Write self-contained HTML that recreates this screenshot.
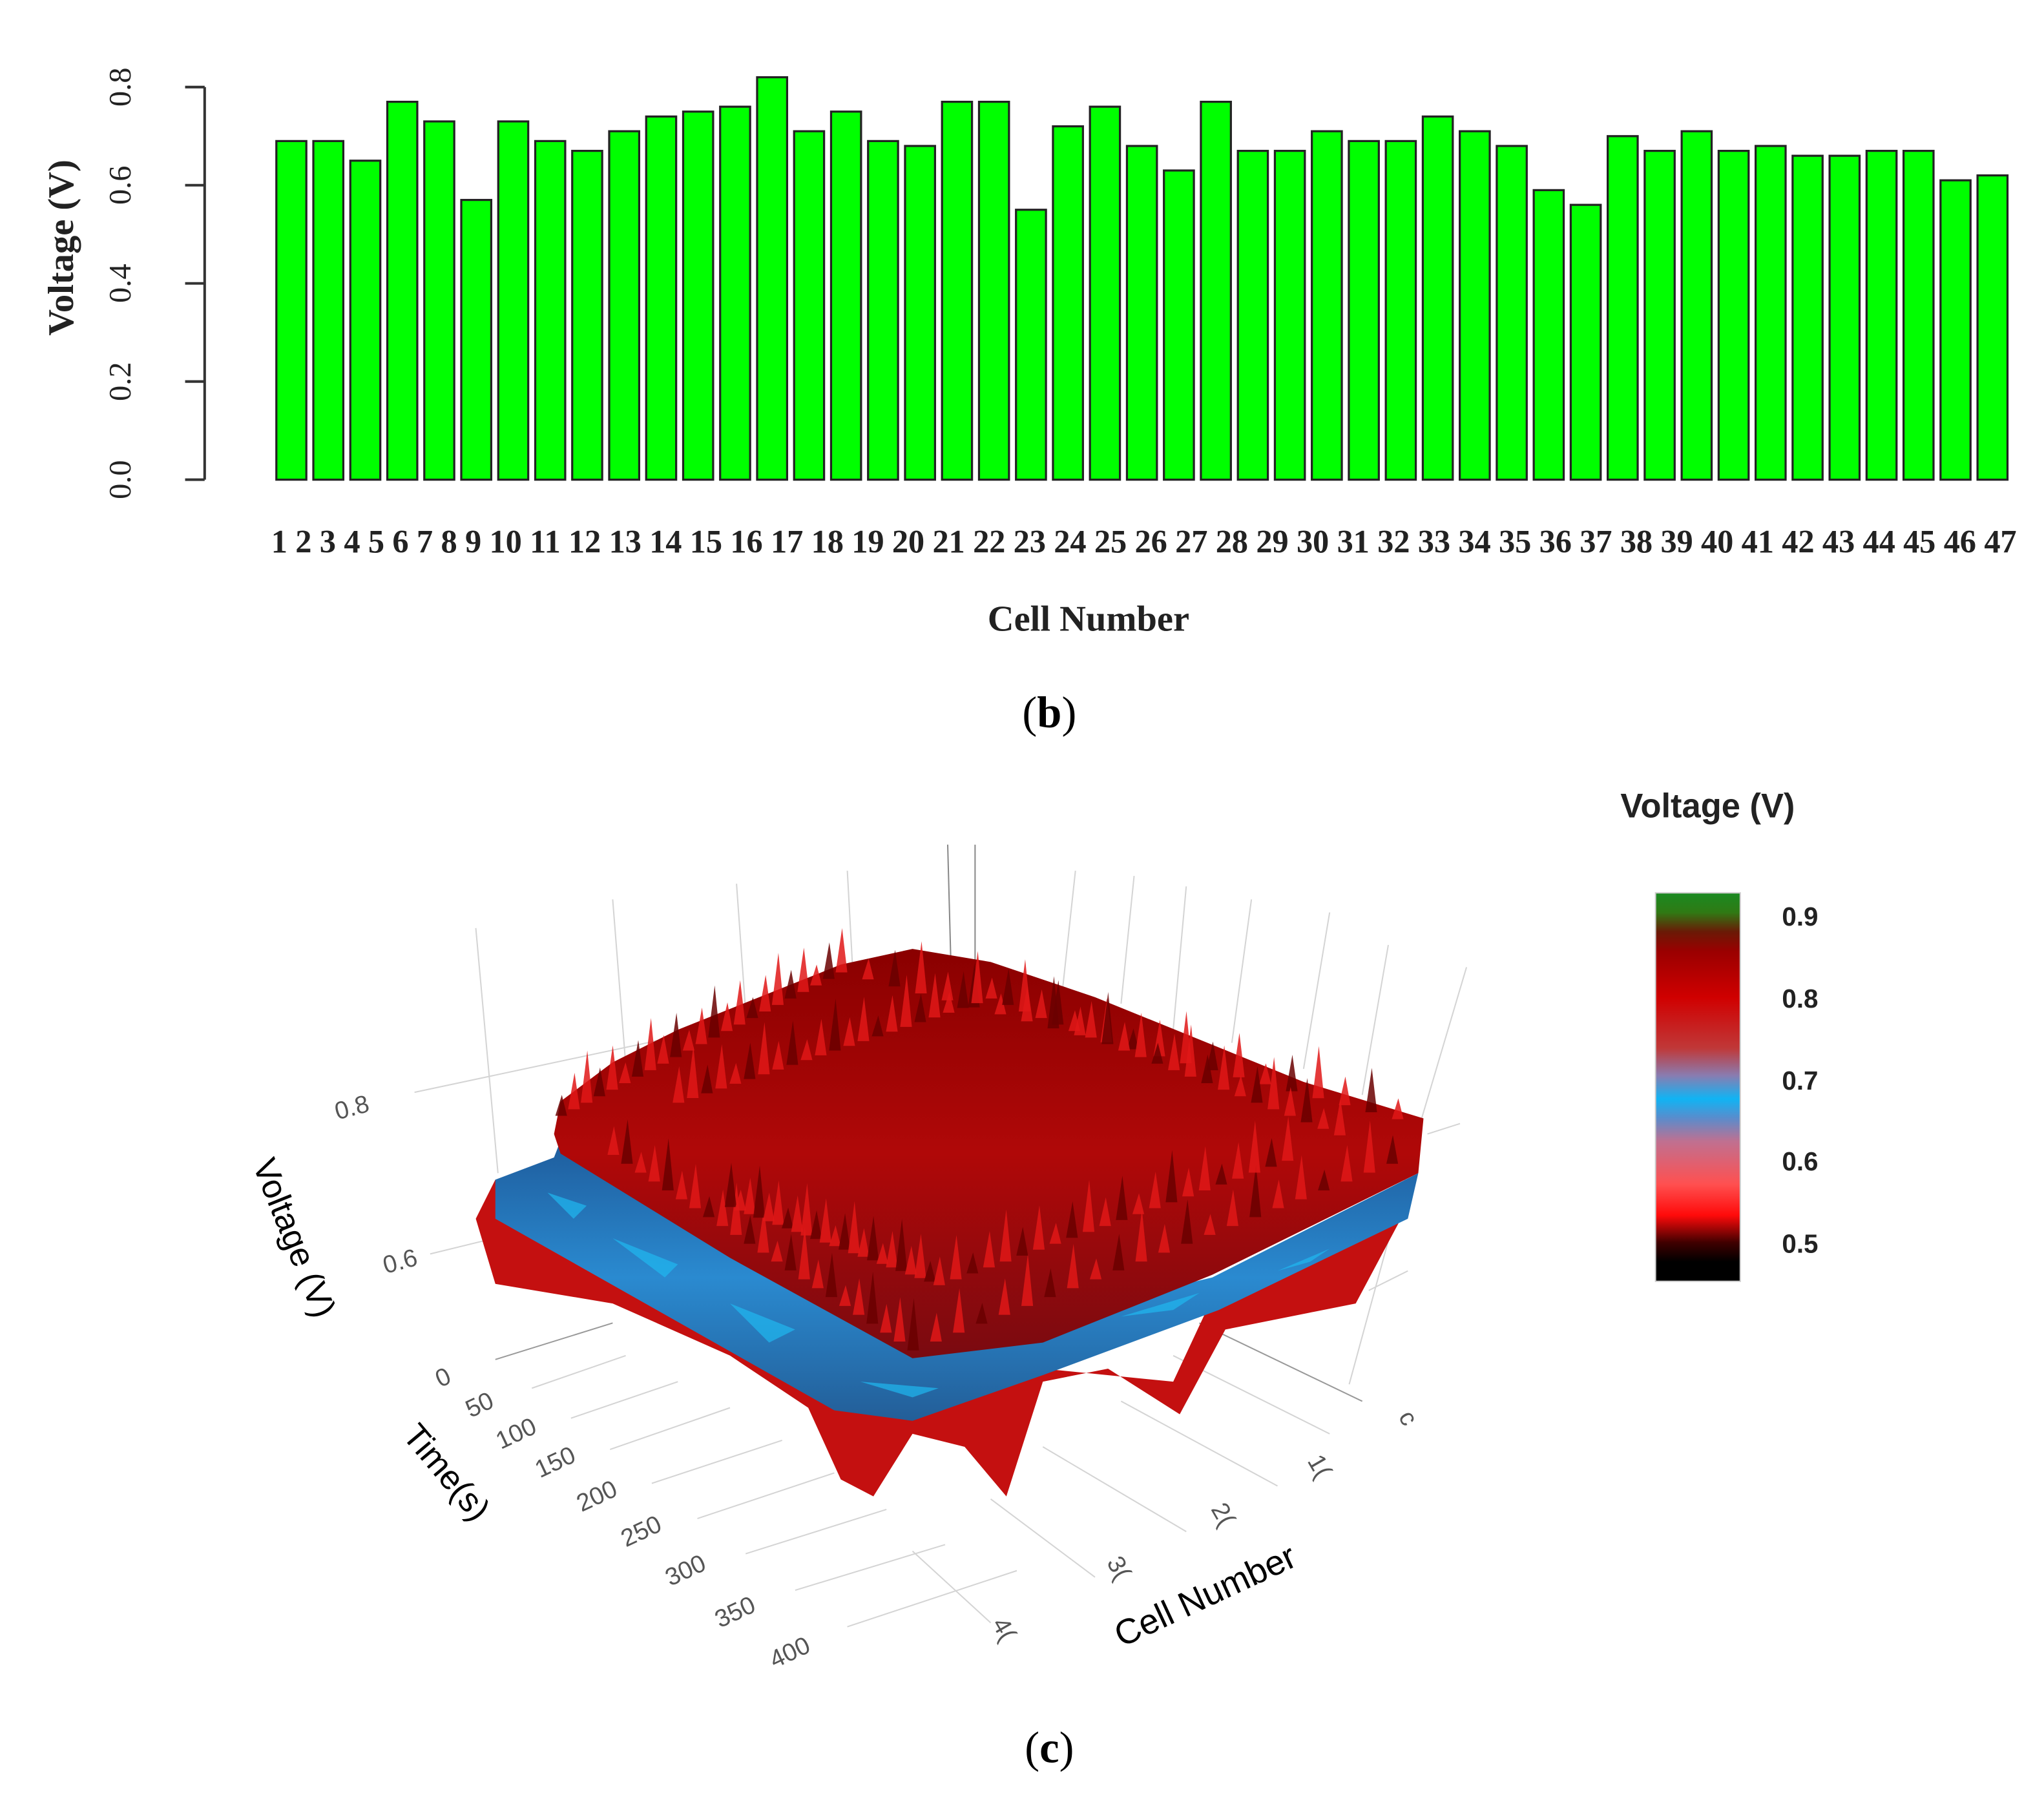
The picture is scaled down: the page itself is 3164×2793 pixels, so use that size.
<!DOCTYPE html>
<html><head><meta charset="utf-8"><style>
html,body{margin:0;padding:0;background:#fff;}
svg{display:block;}
</style></head><body>
<svg id="fig" width="3164" height="2793" viewBox="0 0 1568 1384" preserveAspectRatio="none" xmlns="http://www.w3.org/2000/svg">
<defs>
<linearGradient id="cbar" x1="0" y1="0" x2="0" y2="1">
<stop offset="0" stop-color="#1a8a22"/><stop offset="0.05" stop-color="#2f7a14"/>
<stop offset="0.1" stop-color="#6a1a06"/><stop offset="0.15" stop-color="#9a0000"/>
<stop offset="0.27" stop-color="#d00000"/><stop offset="0.4" stop-color="#c03838"/>
<stop offset="0.47" stop-color="#8a7cb0"/><stop offset="0.53" stop-color="#10b4f4"/>
<stop offset="0.58" stop-color="#5a8ccc"/><stop offset="0.64" stop-color="#c07090"/>
<stop offset="0.75" stop-color="#ff5050"/><stop offset="0.83" stop-color="#ff0a0a"/>
<stop offset="0.9" stop-color="#400000"/><stop offset="0.95" stop-color="#000"/><stop offset="1" stop-color="#000"/>
</linearGradient>
<linearGradient id="blueband" x1="0" y1="0" x2="0" y2="1">
<stop offset="0" stop-color="#1e5a9a"/><stop offset="0.5" stop-color="#2a8ad0"/><stop offset="1" stop-color="#235e98"/>
</linearGradient>
<linearGradient id="redtop" x1="0" y1="0" x2="0" y2="1">
<stop offset="0" stop-color="#8a0000"/><stop offset="0.5" stop-color="#b00808"/><stop offset="1" stop-color="#7a0a10"/>
</linearGradient>
</defs>
<g id="barchart"></g>
<g id="surface">
<g stroke="#d4d4d4" stroke-width="1" fill="none">
<line x1="365" y1="712" x2="382" y2="900"/><line x1="470" y1="690" x2="485" y2="880"/>
<line x1="565" y1="678" x2="578" y2="860"/><line x1="650" y1="668" x2="655" y2="760"/>
<line x1="727" y1="648" x2="730" y2="760" stroke="#888"/><line x1="748" y1="648" x2="748" y2="760" stroke="#888"/>
<line x1="825" y1="668" x2="815" y2="760"/><line x1="870" y1="672" x2="860" y2="770"/>
<line x1="910" y1="680" x2="900" y2="790"/><line x1="960" y1="690" x2="945" y2="800"/>
<line x1="1020" y1="700" x2="1000" y2="820"/><line x1="1065" y1="725" x2="1045" y2="840"/>
<line x1="1125" y1="742" x2="1090" y2="860"/><line x1="1090" y1="860" x2="1035" y2="1062"/>
<line x1="318" y1="838" x2="520" y2="795"/><line x1="330" y1="962" x2="420" y2="940"/>
<line x1="1095" y1="870" x2="1120" y2="862"/><line x1="1080" y1="975" x2="1050" y2="990"/>
<line x1="380" y1="1043" x2="470" y2="1015" stroke="#999"/><line x1="920" y1="1015" x2="1045" y2="1075" stroke="#999"/>
<line x1="408" y1="1065" x2="480" y2="1040"/><line x1="438" y1="1088" x2="520" y2="1060"/>
<line x1="468" y1="1112" x2="560" y2="1080"/><line x1="500" y1="1138" x2="600" y2="1105"/>
<line x1="535" y1="1165" x2="640" y2="1130"/><line x1="572" y1="1192" x2="680" y2="1158"/>
<line x1="610" y1="1220" x2="725" y2="1185"/><line x1="650" y1="1248" x2="780" y2="1205"/>
<line x1="1020" y1="1100" x2="900" y2="1040"/><line x1="980" y1="1140" x2="860" y2="1075"/>
<line x1="910" y1="1175" x2="800" y2="1110"/><line x1="840" y1="1210" x2="760" y2="1150"/>
<line x1="760" y1="1245" x2="700" y2="1190"/>
</g>
<g>
<polygon fill="#c41010" points="365,935 380,905 640,1070 700,1085 800,1050 900,1060 935,985 1080,925 1040,1000 940,1020 905,1085 850,1050 800,1060 772,1148 740,1110 700,1100 670,1148 645,1135 620,1080 560,1040 470,1000 380,985"/>
<polygon fill="url(#blueband)" points="380,905 425,888 432,870 700,1035 930,980 1088,900 1080,935 935,1005 800,1055 700,1090 640,1082 380,935"/>
<polygon fill="url(#redtop)" points="425,870 430,845 470,815 520,790 645,740 700,728 760,738 840,765 1000,830 1092,858 1088,900 930,978 800,1030 700,1042 560,965 430,885"/>
<g id="spikes"></g>
<g fill="#20b8f0" opacity="0.7">
<polygon points="470,950 520,970 510,980"/><polygon points="560,1000 610,1020 590,1030"/>
<polygon points="660,1060 720,1065 700,1072"/><polygon points="860,1010 920,992 900,1005"/>
<polygon points="420,915 450,925 440,935"/><polygon points="980,975 1020,958 1005,968"/>
</g>
</g>
<text x="270" y="856" font-family="Liberation Sans, sans-serif" font-size="19" fill="#555" text-anchor="middle" transform="rotate(-15 270 850)">0.8</text>
<text x="307" y="974" font-family="Liberation Sans, sans-serif" font-size="19" fill="#555" text-anchor="middle" transform="rotate(-15 307 968)">0.6</text>
<text x="225" y="958" font-family="Liberation Sans, sans-serif" font-size="26" fill="#000" text-anchor="middle" transform="rotate(68 225 950)">Voltage (V)</text>
<g font-family="Liberation Sans, sans-serif" font-size="19" fill="#555" text-anchor="middle">
<text x="340" y="1063" transform="rotate(-25 340 1057)">0</text>
<text x="368" y="1084" transform="rotate(-25 368 1078)">50</text>
<text x="396" y="1106" transform="rotate(-25 396 1100)">100</text>
<text x="426" y="1128" transform="rotate(-25 426 1122)">150</text>
<text x="458" y="1154" transform="rotate(-25 458 1148)">200</text>
<text x="492" y="1181" transform="rotate(-25 492 1175)">250</text>
<text x="526" y="1211" transform="rotate(-25 526 1205)">300</text>
<text x="564" y="1243" transform="rotate(-25 564 1237)">350</text>
<text x="606" y="1274" transform="rotate(-25 606 1268)">400</text>
</g>
<text x="342" y="1138" font-family="Liberation Sans, sans-serif" font-size="26" fill="#000" text-anchor="middle" transform="rotate(50 342 1130)">Time(s)</text>
<g font-family="Liberation Sans, sans-serif" font-size="19" fill="#555" text-anchor="middle">
<text x="1080" y="1094" transform="rotate(60 1080 1088)">c</text>
<text x="1012" y="1131" transform="rotate(60 1012 1125)">1(</text>
<text x="938" y="1168" transform="rotate(60 938 1162)">2(</text>
<text x="858" y="1209" transform="rotate(60 858 1203)">3(</text>
<text x="770" y="1256" transform="rotate(60 770 1250)">4(</text>
</g>
<text x="925" y="1233" font-family="Liberation Sans, sans-serif" font-size="27" fill="#000" text-anchor="middle" transform="rotate(-25 925 1225)">Cell Number</text>
<text x="1310" y="627" font-family="Liberation Sans, sans-serif" font-size="26" font-weight="bold" fill="#222" text-anchor="middle">Voltage (V)</text>
<rect x="1270" y="685" width="65" height="298" fill="url(#cbar)" stroke="#ccc" stroke-width="1"/>
<g font-family="Liberation Sans, sans-serif" font-size="20" font-weight="bold" fill="#222">
<text x="1367" y="710">0.9</text><text x="1367" y="773">0.8</text>
<text x="1367" y="836">0.7</text><text x="1367" y="898">0.6</text><text x="1367" y="961">0.5</text>
</g>
</g>
<text x="805" y="558" font-family="Liberation Serif, serif" font-size="34" text-anchor="middle">(<tspan font-weight="bold">b</tspan>)</text>
<text x="805" y="1352" font-family="Liberation Serif, serif" font-size="34" text-anchor="middle">(<tspan font-weight="bold">c</tspan>)</text>
</svg>
<script>
const cells = Array.from({length:47},(_,i)=>String(i+1));
const voltages = [0.69,0.69,0.65,0.77,0.73,0.57,0.73,0.69,0.67,0.71,0.74,0.75,0.76,0.82,0.71,0.75,0.69,0.68,0.77,0.77,0.55,0.72,0.76,0.68,0.63,0.77,0.67,0.67,0.71,0.69,0.69,0.74,0.71,0.68,0.59,0.56,0.70,0.67,0.71,0.67,0.68,0.66,0.66,0.67,0.67,0.61,0.62];
const yTicks = [0.0,0.2,0.4,0.6,0.8];
const yTickLabels = ["0.0","0.2","0.4","0.6","0.8"];

const NS="http://www.w3.org/2000/svg";
const g=document.getElementById('barchart');
const y0=368, pxPerV=376.5;
function yScale(v){return y0-v*pxPerV;}
function xScale(i){return 223.5+i*(1305/46);}
function mk(tag,attrs){const e=document.createElementNS(NS,tag);for(const k in attrs)e.setAttribute(k,attrs[k]);return e;}

const axis=mk('line',{x1:157,y1:yScale(0.8),x2:157,y2:yScale(0),stroke:'#333','stroke-width':2});


g.appendChild(axis);
yTicks.forEach((t,i)=>{
  const tk=mk('line',{x1:142,y1:yScale(t),x2:157,y2:yScale(t),stroke:'#333','stroke-width':2});
  
  
  g.appendChild(tk);
  const tx=mk('text',{x:0,y:0,'font-family':'Liberation Serif, serif','font-size':24,'text-anchor':'middle',fill:'#222',transform:`translate(100 ${yScale(t)}) rotate(-90)`});
  tx.textContent=yTickLabels[i];
  
  
  g.appendChild(tx);
});
const yt=mk('text',{x:0,y:0,'font-family':'Liberation Serif, serif','font-size':28,'font-weight':'bold','text-anchor':'middle',fill:'#222',transform:'translate(56 190) rotate(-90)'});
yt.textContent='Voltage (V)';


g.appendChild(yt);

voltages.forEach((v,i)=>{
  const r=mk('rect',{x:xScale(i)-11.5,y:yScale(v),width:23,height:v*pxPerV,fill:'#00ff00',stroke:'#222','stroke-width':1.6});
  
  
  g.appendChild(r);
});
const xl=mk('text',{x:208,y:424,'font-family':'Liberation Serif, serif','font-size':25,'font-weight':'bold',fill:'#222',textLength:1339,lengthAdjust:'spacing'});
xl.textContent=cells.join(' ');


g.appendChild(xl);
const xt=mk('text',{x:835,y:484,'font-family':'Liberation Serif, serif','font-size':28,'font-weight':'bold','text-anchor':'middle',fill:'#222'});
xt.textContent='Cell Number';


g.appendChild(xt);

// decorative jagged texture on the surface (not data)
const sp=document.getElementById('spikes');
const edges=[[430,850,645,740],[645,740,1092,858],[470,880,700,1030],[700,1030,1085,880],[520,840,760,760],[760,760,1040,870],[560,920,720,980],[720,980,1000,880]];
edges.forEach((e,k)=>{
  const n=22;
  for(let j=0;j<n;j++){
    const t=j/n, x=e[0]+(e[2]-e[0])*t, y=e[1]+(e[3]-e[1])*t;
    const h=10+((j*7+k*3)%5)*6;
    const p=mk('polygon',{points:`${x-4},${y+6} ${x+1},${y-h} ${x+5},${y+6}`,fill:(j+k)%3===0?'#6a0000':'#e01818',opacity:0.85});
    
    
    sp.appendChild(p);
  }
});
</script>
</body></html>
